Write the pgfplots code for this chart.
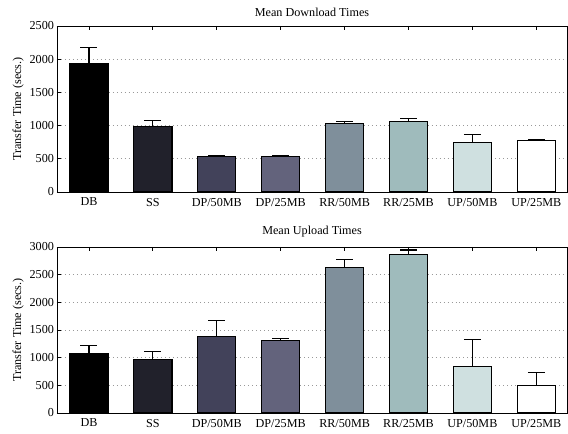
\documentclass[border=0pt]{standalone}
\usepackage{pgfplots}
\pgfplotsset{compat=1.18}
\usepackage{fontspec}
\setmainfont{Liberation Serif}
\definecolor{c1}{HTML}{000000}
\definecolor{c2}{HTML}{21212B}
\definecolor{c3}{HTML}{42425A}
\definecolor{c4}{HTML}{63637C}
\definecolor{c5}{HTML}{7F8F9B}
\definecolor{c6}{HTML}{9FBBBC}
\definecolor{c7}{HTML}{CFE0E0}
\definecolor{c8}{HTML}{FFFFFF}
\newcommand{\fs}{\fontsize{12.2}{14}\selectfont}
\pgfplotsset{
  mybars/.style={
    scale only axis, width=510bp, height=166bp,
    xmin=0.5, xmax=8.48,
    xtick={1,...,8},
    xticklabels={DB,SS,DP/50MB,DP/25MB,RR/50MB,RR/25MB,UP/50MB,UP/25MB},
    tick align=inside, tick pos=both,
    major tick length=4bp,
    ytick pos=left,
    ymajorgrids, grid style={dash pattern=on 1pt off 3pt, gray!80, line width=0.7pt},
    axis line style={line width=0.9pt},
    tick style={line width=0.8pt, black},
    tick label style={font=\fs},
    xticklabel style={yshift=-2.5bp},
    yticklabel style={xshift=0.5bp},
    label style={font=\fs},
    title style={font=\fs, yshift=0bp},
    /pgf/number format/assume math mode=true,
    /pgf/number format/1000 sep={},
    ylabel={Transfer Time (secs.)},
    ylabel style={yshift=-1bp},
    every axis plot/.append style={ybar, bar shift=0pt, bar width=0.6, draw=black, line width=1.1pt,
      error bars/y dir=plus, error bars/y explicit,
      error bars/error bar style={line width=1.1pt, black},
      error bars/error mark options={rotate=90, mark size=8.5bp, line width=1.1pt, black}},
  }
}
\begin{document}
\begin{tikzpicture}
\begin{axis}[mybars, at={(0bp,221bp)}, anchor=south west,
  ymin=0, ymax=2500, ytick={0,500,...,2500},
  title={Mean Download Times}]
\addplot[fill=c1] coordinates {(1,1940) +- (0,235)};
\addplot[fill=c2] coordinates {(2,980) +- (0,90)};
\addplot[fill=c3] coordinates {(3,530) +- (0,18)};
\addplot[fill=c4] coordinates {(4,535) +- (0,18)};
\addplot[fill=c5] coordinates {(5,1033) +- (0,35)};
\addplot[fill=c6] coordinates {(6,1062) +- (0,48)};
\addplot[fill=c7] coordinates {(7,748) +- (0,115)};
\addplot[fill=c8] coordinates {(8,772) +- (0,25)};
\end{axis}
\begin{axis}[mybars, at={(0bp,0bp)}, anchor=south west,
  ymin=0, ymax=3000, ytick={0,500,...,3000},
  title={Mean Upload Times}]
\addplot[fill=c1] coordinates {(1,1075) +- (0,140)};
\addplot[fill=c2] coordinates {(2,968) +- (0,148)};
\addplot[fill=c3] coordinates {(3,1378) +- (0,292)};
\addplot[fill=c4] coordinates {(4,1312) +- (0,38)};
\addplot[fill=c5] coordinates {(5,2632) +- (0,145)};
\addplot[fill=c6] coordinates {(6,2866) +- (0,80)};
\addplot[fill=c7] coordinates {(7,834) +- (0,488)};
\addplot[fill=c8] coordinates {(8,490) +- (0,235)};
\end{axis}
\pgfresetboundingbox
\useasboundingbox (-57bp,-21bp) rectangle (511bp,413bp);
\end{tikzpicture}
\end{document}
